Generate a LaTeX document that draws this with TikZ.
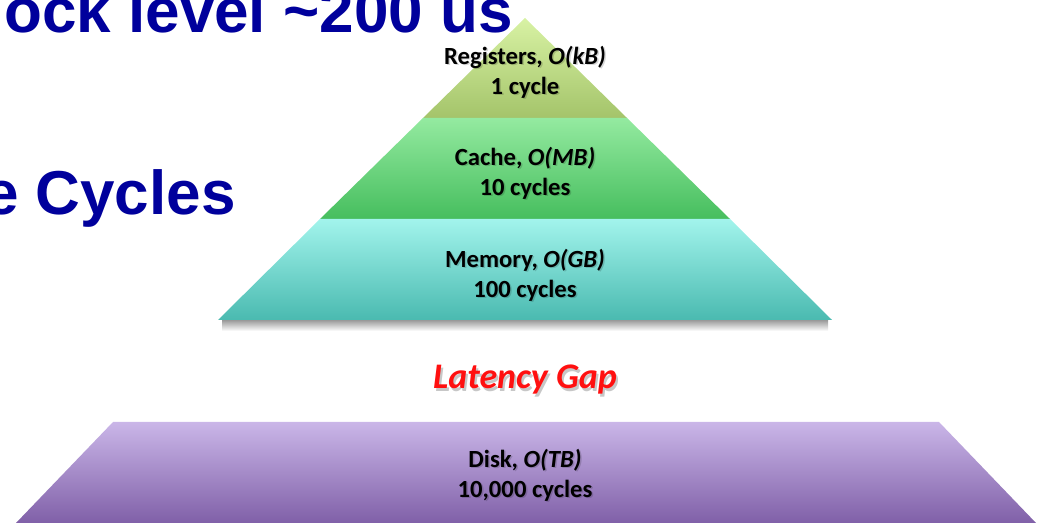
\documentclass[tikz,border=0pt]{standalone}
\usepackage{fontspec}
\setmainfont{Carlito}
\newfontfamily\titlefont{Liberation Sans}
\definecolor{titleblue}{HTML}{00009C}
\definecolor{regtop}{HTML}{D8F2A4}
\definecolor{regbot}{HTML}{A4C46A}
\definecolor{cachetop}{HTML}{94EAA0}
\definecolor{cachebot}{HTML}{46BE5E}
\definecolor{memtop}{HTML}{A2F4EC}
\definecolor{membot}{HTML}{4ABAB0}
\definecolor{disktop}{HTML}{CAB6E8}
\definecolor{diskbot}{HTML}{8060A8}
\definecolor{gapred}{HTML}{FF1010}
\begin{document}
\begin{tikzpicture}[x=0.75pt,y=-0.75pt,
  lab/.style={font=\fontsize{18.5}{22.5}\selectfont\bfseries, align=center, text=black, inner sep=0pt},
  labshadow/.style={lab, text=black, opacity=0.16},
  title/.style={font=\titlefont\fontsize{46.5}{50}\selectfont\bfseries, text=titleblue, inner sep=0pt}]
\useasboundingbox (0,0) rectangle (1042,523);
% titles
\node[title, anchor=base east] (t1) at (513,33) {ock level \textasciitilde200 us};
\node[title, anchor=base east] (t2) at (236,215) {e Cycles};
% pyramid bands
\shade[top color=regtop, bottom color=regbot] (525,18) -- (627,118) -- (423,118) -- cycle;
\shade[top color=cachetop, bottom color=cachebot] (423,118) -- (627,118) -- (730,219) -- (320,219) -- cycle;
\shade[top color=black!40, bottom color=white] (222,320) rectangle (828,331);
\shade[top color=memtop, bottom color=membot] (320,219) -- (730,219) -- (832,320) -- (218,320) -- cycle;
\shade[top color=disktop, bottom color=diskbot] (113,422) -- (939,422) -- (1036,523) -- (16,523) -- cycle;
% labels (with faint shadow)
\node[labshadow] at (526.5,73.5) {Registers, \textit{O(kB)}\\1 cycle};
\node[lab] (reg) at (525,72) {Registers, \textit{O(kB)}\\1 cycle};
\node[labshadow] at (526.5,174.5) {Cache, \textit{O(MB)}\\10 cycles};
\node[lab] (cache) at (525,173) {Cache, \textit{O(MB)}\\10 cycles};
\node[labshadow] at (526.5,276.5) {Memory, \textit{O(GB)}\\100 cycles};
\node[lab] (mem) at (525,275) {Memory, \textit{O(GB)}\\100 cycles};
\node[labshadow] at (526.5,476.5) {Disk, \textit{O(TB)}\\10,000 cycles};
\node[lab] (disk) at (525,475) {Disk, \textit{O(TB)}\\10,000 cycles};
\node[font=\fontsize{27}{30}\selectfont\bfseries\itshape, text=black, opacity=0.22, inner sep=0pt] at (527,383) {Latency Gap};
\node[font=\fontsize{27}{30}\selectfont\bfseries\itshape, text=gapred, inner sep=0pt] (gap) at (525,380) {Latency Gap};
\end{tikzpicture}
\end{document}
